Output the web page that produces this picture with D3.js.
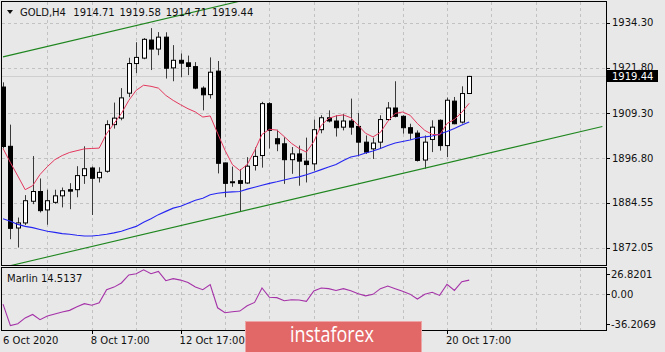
<!DOCTYPE html>
<html>
<head>
<meta charset="utf-8">
<script src="https://cdn.jsdelivr.net/npm/d3@7"></script>
<style>
  html, body { margin: 0; padding: 0; background: #e8e8e8; overflow: hidden; }
  svg { display: block; font-family: "DejaVu Sans", sans-serif; }
</style>
</head>
<body>
<div id="chart"></div>
<script>
// --- Data ---
const symbol = "GOLD,H4";
const lastBarText = ["1914.71", "1919.58", "1914.71", "1919.44"];
const bidPrice = 1919.44;
const marlinName = "Marlin";
const marlinLastText = "14.5137";

const opens = [1916.5, 1900.1, 1877.5, 1878.9, 1884.9, 1887.6, 1882.5, 1884.6, 1886.4, 1888.1,
  1888.1, 1892.0, 1894.1, 1891.4, 1893.2, 1906.1, 1907.9, 1914.8, 1923.0, 1924.5,
  1929.5, 1927.0, 1930.3, 1921.8, 1923.9, 1923.2, 1922.15, 1916.2, 1914.4, 1920.9,
  1895.5, 1890.05, 1890.6, 1889.95, 1894.8, 1897.55, 1911.9, 1902.2, 1900.8, 1896.4,
  1898.0, 1896.0, 1895.25, 1904.7, 1908.0, 1907.1, 1905.4, 1907.1, 1905.6, 1901.25,
  1899.4, 1901.25, 1907.5, 1910.7, 1908.4, 1905.25, 1903.75, 1896.3, 1902.0, 1907.3,
  1900.3, 1912.6, 1906.8, 1914.71];
const highs = [1917.8, 1906.1, 1880.4, 1886.6, 1897.4, 1891.2, 1888.1, 1888.1, 1888.7, 1889.9,
  1894.6, 1900.1, 1894.5, 1894.3, 1907.3, 1912.2, 1916.2, 1924.6, 1928.9, 1930.05,
  1932.8, 1931.7, 1931.65, 1928.1, 1925.8, 1925.2, 1923.4, 1916.7, 1924.7, 1923.7,
  1895.6, 1894.5, 1893.8, 1897.1, 1899.8, 1912.4, 1912.3, 1904.7, 1902.6, 1899.9,
  1900.3, 1902.5, 1907.5, 1908.7, 1910.05, 1908.7, 1909.1, 1913.3, 1909.3, 1903.1,
  1902.5, 1908.7, 1912.35, 1918.1, 1908.7, 1906.35, 1904.5, 1903.1, 1907.3, 1907.55,
  1913.6, 1913.75, 1916.7, 1919.58];
const lows = [1899.5, 1874.4, 1872.1, 1878.3, 1884.1, 1881.8, 1878.4, 1884.2, 1883.2, 1882.7,
  1886.0, 1889.7, 1881.1, 1890.1, 1892.8, 1905.0, 1907.3, 1913.7, 1920.3, 1924.2,
  1921.2, 1925.3, 1918.85, 1918.1, 1919.2, 1919.8, 1915.9, 1910.05, 1913.3, 1892.6,
  1886.0, 1888.9, 1882.1, 1889.7, 1893.4, 1894.2, 1899.5, 1898.75, 1889.7, 1892.5,
  1889.2, 1890.1, 1893.4, 1903.7, 1906.7, 1902.8, 1904.5, 1903.3, 1897.3, 1898.0,
  1896.6, 1899.4, 1907.1, 1908.1, 1903.6, 1901.9, 1895.9, 1893.9, 1898.5, 1898.9,
  1897.1, 1906.2, 1906.4, 1914.71];
const closes = [1900.05, 1877.4, 1878.9, 1885.05, 1887.6, 1882.3, 1885.05, 1886.4, 1887.8, 1887.7,
  1892.0, 1893.9, 1891.25, 1892.9, 1906.1, 1907.9, 1913.5, 1923.0, 1924.7, 1929.7,
  1927.0, 1930.3, 1921.7, 1923.9, 1923.1, 1922.2, 1916.2, 1914.35, 1920.6, 1895.4,
  1889.85, 1890.3, 1889.85, 1894.6, 1897.3, 1911.9, 1904.5, 1900.8, 1896.4, 1898.0,
  1896.0, 1895.05, 1904.7, 1908.0, 1907.1, 1905.25, 1907.1, 1905.4, 1901.25, 1898.5,
  1901.0, 1907.5, 1910.7, 1908.4, 1905.25, 1903.75, 1896.2, 1901.25, 1905.4, 1900.3,
  1912.85, 1906.35, 1914.7, 1919.44];

// fast moving average (red)
const redMa = [1899.5, 1895.6, 1891.9, 1888.1, 1889.2, 1892.3, 1894.5, 1896.4, 1897.55, 1898.4,
  1898.9, 1899.4, 1899.5, 1899.6, 1903.6, 1906.4, 1909.2, 1912.8, 1915.6, 1917.0,
  1916.7, 1916.2, 1914.2, 1912.8, 1911.6, 1910.5, 1909.6, 1908.2, 1908.5, 1903.7,
  1899.0, 1895.05, 1893.4, 1895.05, 1898.9, 1903.4, 1904.8, 1904.6, 1902.8, 1900.9,
  1899.5, 1898.5, 1901.4, 1905.9, 1907.8, 1908.5, 1908.8, 1908.0, 1905.9, 1903.7,
  1902.7, 1903.95, 1907.0, 1909.2, 1909.6, 1908.7, 1906.4, 1904.5, 1903.4, 1903.25,
  1906.4, 1907.55, 1909.5, 1912.0];
// slow moving average (blue)
const blueMa = [1880.05, 1879.35, 1878.5, 1877.95, 1877.6, 1877.1, 1876.6, 1876.3, 1875.95, 1875.75,
  1875.5, 1875.3, 1875.3, 1875.5, 1875.75, 1876.15, 1876.6, 1877.3, 1877.95, 1879.1,
  1880.05, 1881.2, 1882.1, 1883.0, 1883.5, 1884.35, 1885.2, 1885.75, 1886.7, 1887.1,
  1887.35, 1887.5, 1887.6, 1888.25, 1888.8, 1889.35, 1889.85, 1890.3, 1890.8, 1891.25,
  1891.65, 1892.25, 1892.95, 1893.65, 1894.35, 1895.05, 1896.2, 1897.15, 1897.55, 1898.25,
  1898.8, 1899.5, 1900.3, 1901.0, 1901.45, 1901.85, 1902.4, 1902.7, 1902.95, 1903.5,
  1904.2, 1905.05, 1906.0, 1906.85];
// Marlin oscillator
const marlin = [-9.95, -31.69, -29.9, -23.92, -20.45, -25.7, -22.03, -19.93, -17.82, -16.25,
  -12.57, -9.42, -11.0, -8.58, 4.76, 7.39, 11.59, 19.78, 21.04, 25.03,
  21.04, 23.35, 13.9, 16.0, 14.53, 12.11, 7.6, 4.76, 10.03, -13.62,
  -18.66, -17.61, -16.98, -11.52, -8.16, 6.55, -2.91, -3.33, -6.48, -5.43,
  -5.74, -7.11, 3.4, 6.55, 5.81, 4.03, 5.81, 3.71, 0.56, -1.54,
  0.04, 5.81, 8.44, 5.81, 3.19, 0.24, -4.69, 0.04, 2.14, -1.02,
  10.33, 4.03, 12.85, 14.51];

// channel trend lines (bar index, price)
const trendBars = [0, 81];
const upperTrend = [1924.85, 1963.85];
const lowerTrend = [1866.6, 1905.6];

const priceTicks = [1934.30, 1921.80, 1909.30, 1896.80, 1884.55, 1872.05];
const marlinTicks = [26.8201, 0.00, -36.2069];
const timeLabels = ["6 Oct 2020", "8 Oct 17:00", "12 Oct 17:00", "14 Oct 17:00", "16 Oct 17:00", "20 Oct 17:00"];
const timeLabelBars = [0, 12, 24, 36, 48, 60];

// --- Dimensions ---
const width = 665;
const height = 352;
const plot = { left: 2, right: 606, top: 2, bottom: 266 };
const sub = { top: 268, bottom: 330 };

const bg = "#e8e8e8";
const gridColor = "#c2c2c2";

// --- SVG Setup ---
const svg = d3.select("#chart").append("svg")
  .attr("width", width)
  .attr("height", height);

svg.append("rect").attr("width", width).attr("height", height).attr("fill", bg);

const defs = svg.append("defs");
defs.append("clipPath").attr("id", "clip-main")
  .append("rect")
  .attr("x", plot.left).attr("y", plot.top)
  .attr("width", plot.right - plot.left).attr("height", plot.bottom - plot.top);
defs.append("clipPath").attr("id", "clip-sub")
  .append("rect")
  .attr("x", plot.left).attr("y", sub.top)
  .attr("width", plot.right - plot.left).attr("height", sub.bottom - sub.top);

// --- Scales ---
const x = d3.scaleLinear().domain([0, 60]).range([3, 447]);
const y = d3.scaleLinear().domain([1872.05, 1934.30]).range([247.7, 22.7]);
const yM = d3.scaleLinear().domain([-36.2069, 26.8201]).range([sub.bottom, sub.top]);

const crisp = v => Math.round(v) + 0.5;

// --- Grid ---
const gridBars = d3.range(6, 84, 6).filter(b => x(b) < plot.right - 2);
const grid = svg.append("g")
  .attr("stroke", gridColor)
  .attr("stroke-dasharray", "3,3")
  .attr("shape-rendering", "crispEdges");

[[plot.top, plot.bottom], [sub.top, sub.bottom]].forEach(([t, b]) => {
  grid.selectAll(null)
    .data(gridBars)
    .join("line")
    .attr("x1", d => crisp(x(d))).attr("x2", d => crisp(x(d)))
    .attr("y1", t).attr("y2", b);
});

grid.selectAll(null)
  .data(priceTicks)
  .join("line")
  .attr("x1", plot.left).attr("x2", plot.right)
  .attr("y1", d => crisp(y(d))).attr("y2", d => crisp(y(d)));

grid.append("line")
  .attr("x1", plot.left).attr("x2", plot.right)
  .attr("y1", crisp(yM(0))).attr("y2", crisp(yM(0)));

// bid line
svg.append("line")
  .attr("x1", plot.left).attr("x2", plot.right)
  .attr("y1", crisp(y(bidPrice))).attr("y2", crisp(y(bidPrice)))
  .attr("stroke", "#cfcfcf")
  .attr("shape-rendering", "crispEdges");

// --- Candles ---
const bars = d3.range(opens.length).map(i => ({
  i, o: opens[i], h: highs[i], l: lows[i], c: closes[i]
}));

const main = svg.append("g").attr("clip-path", "url(#clip-main)");

const candles = main.append("g").selectAll("g")
  .data(bars)
  .join("g");

candles.append("line")
  .attr("x1", d => crisp(x(d.i))).attr("x2", d => crisp(x(d.i)))
  .attr("y1", d => y(d.h)).attr("y2", d => y(d.l))
  .attr("stroke", "#3a3a3a");

candles.append("rect")
  .attr("x", d => crisp(x(d.i)) - 2)
  .attr("width", 4)
  .attr("y", d => y(Math.max(d.o, d.c)))
  .attr("height", d => Math.max(1, Math.abs(y(d.o) - y(d.c))))
  .attr("fill", d => (d.c >= d.o ? "#ffffff" : "#000000"))
  .attr("stroke", "#000");

// --- Moving averages ---
const maLine = d3.line().x((d, i) => x(i)).y(d => y(d));

main.append("path")
  .datum(blueMa)
  .attr("d", maLine)
  .attr("fill", "none")
  .attr("stroke", "#2626f2")
  .attr("stroke-width", 1.1);

main.append("path")
  .datum(redMa)
  .attr("d", maLine)
  .attr("fill", "none")
  .attr("stroke", "#e4385e")
  .attr("stroke-width", 1);

// --- Trend lines ---
[upperTrend, lowerTrend].forEach(t => {
  main.append("line")
    .attr("x1", x(trendBars[0])).attr("y1", y(t[0]))
    .attr("x2", x(trendBars[1])).attr("y2", y(t[1]))
    .attr("stroke", "#1f861f")
    .attr("stroke-width", 1.1);
});

// --- Marlin sub-window ---
svg.append("g").attr("clip-path", "url(#clip-sub)")
  .append("path")
  .datum(marlin)
  .attr("d", d3.line().x((d, i) => x(i)).y(d => yM(d)))
  .attr("fill", "none")
  .attr("stroke", "#a532a8")
  .attr("stroke-width", 1.1);

// --- Frames ---
const frames = svg.append("g")
  .attr("fill", "none")
  .attr("stroke", "#000")
  .attr("shape-rendering", "crispEdges");

frames.append("rect")
  .attr("x", plot.left - 0.5).attr("y", plot.top - 0.5)
  .attr("width", plot.right - plot.left + 1).attr("height", plot.bottom - plot.top);
frames.append("rect")
  .attr("x", plot.left - 0.5).attr("y", sub.top - 0.5)
  .attr("width", plot.right - plot.left + 1).attr("height", sub.bottom - sub.top + 1);

// --- Price axis ---
const axis = svg.append("g")
  .attr("font-size", "10px")
  .attr("fill", "#111");

axis.selectAll(null)
  .data(priceTicks)
  .join("line")
  .attr("x1", plot.right).attr("x2", plot.right + 4)
  .attr("y1", d => crisp(y(d))).attr("y2", d => crisp(y(d)))
  .attr("stroke", "#000")
  .attr("shape-rendering", "crispEdges");

axis.selectAll(null)
  .data(priceTicks)
  .join("text")
  .attr("x", plot.right + 6)
  .attr("y", d => y(d))
  .attr("dy", "0.36em")
  .text(d => d.toFixed(2));

// current price tag
const tag = svg.append("g");
tag.append("rect")
  .attr("x", plot.right + 1).attr("y", Math.round(y(bidPrice)) - 6)
  .attr("width", 51).attr("height", 12)
  .attr("fill", "#000");
tag.append("text")
  .attr("x", plot.right + 6)
  .attr("y", y(bidPrice))
  .attr("dy", "0.36em")
  .attr("font-size", "10px")
  .attr("fill", "#fff")
  .text(bidPrice.toFixed(2));

// Marlin axis
const mLabelY = d => (d === marlinTicks[0] ? yM(d) + 6 : d === marlinTicks[2] ? yM(d) - 6 : yM(d));
axis.selectAll(null)
  .data(marlinTicks)
  .join("line")
  .attr("x1", plot.right).attr("x2", plot.right + 4)
  .attr("y1", d => crisp(mLabelY(d))).attr("y2", d => crisp(mLabelY(d)))
  .attr("stroke", "#000")
  .attr("shape-rendering", "crispEdges");

axis.selectAll(null)
  .data(marlinTicks)
  .join("text")
  .attr("x", plot.right + 5)
  .attr("y", d => mLabelY(d))
  .attr("dy", "0.36em")
  .text(d => (d === 0 ? "0.00" : d.toFixed(4)));

// --- Time axis ---
axis.selectAll(null)
  .data(timeLabelBars.slice(1))
  .join("line")
  .attr("x1", d => crisp(x(d))).attr("x2", d => crisp(x(d)))
  .attr("y1", sub.bottom).attr("y2", sub.bottom + 4)
  .attr("stroke", "#000")
  .attr("shape-rendering", "crispEdges");

axis.selectAll(null)
  .data(timeLabels)
  .join("text")
  .attr("x", (d, i) => (i === 0 ? plot.left + 1 : x(timeLabelBars[i]) - 1))
  .attr("y", 344)
  .text(d => d);

// --- Header texts ---
const header = svg.append("g").attr("font-size", "10px").attr("fill", "#111");
header.append("path")
  .attr("d", "M7,10 L13,10 L10,14 Z")
  .attr("fill", "#111");
header.append("text").attr("x", 20).attr("y", 16).text(symbol);
header.selectAll(null)
  .data(lastBarText)
  .join("text")
  .attr("x", (d, i) => 73.3 + i * 46.2)
  .attr("y", 16)
  .text(d => d);

svg.append("text")
  .attr("x", 7).attr("y", 281.5)
  .attr("font-size", "10px")
  .attr("fill", "#111")
  .text(`${marlinName} ${marlinLastText}`);

// --- Watermark ---
svg.append("rect")
  .attr("x", 245.5).attr("y", 321.5)
  .attr("width", 176).attr("height", 34)
  .attr("fill", "#e26868")
  .attr("stroke", "#eda5a5");
svg.append("text")
  .attr("x", 290).attr("y", 342)
  .attr("font-family", "'Open Sans', sans-serif")
  .attr("font-size", "21px")
  .attr("fill", "#fff")
  .attr("textLength", 84)
  .attr("lengthAdjust", "spacingAndGlyphs")
  .text("instaforex");
</script>
</body>
</html>
